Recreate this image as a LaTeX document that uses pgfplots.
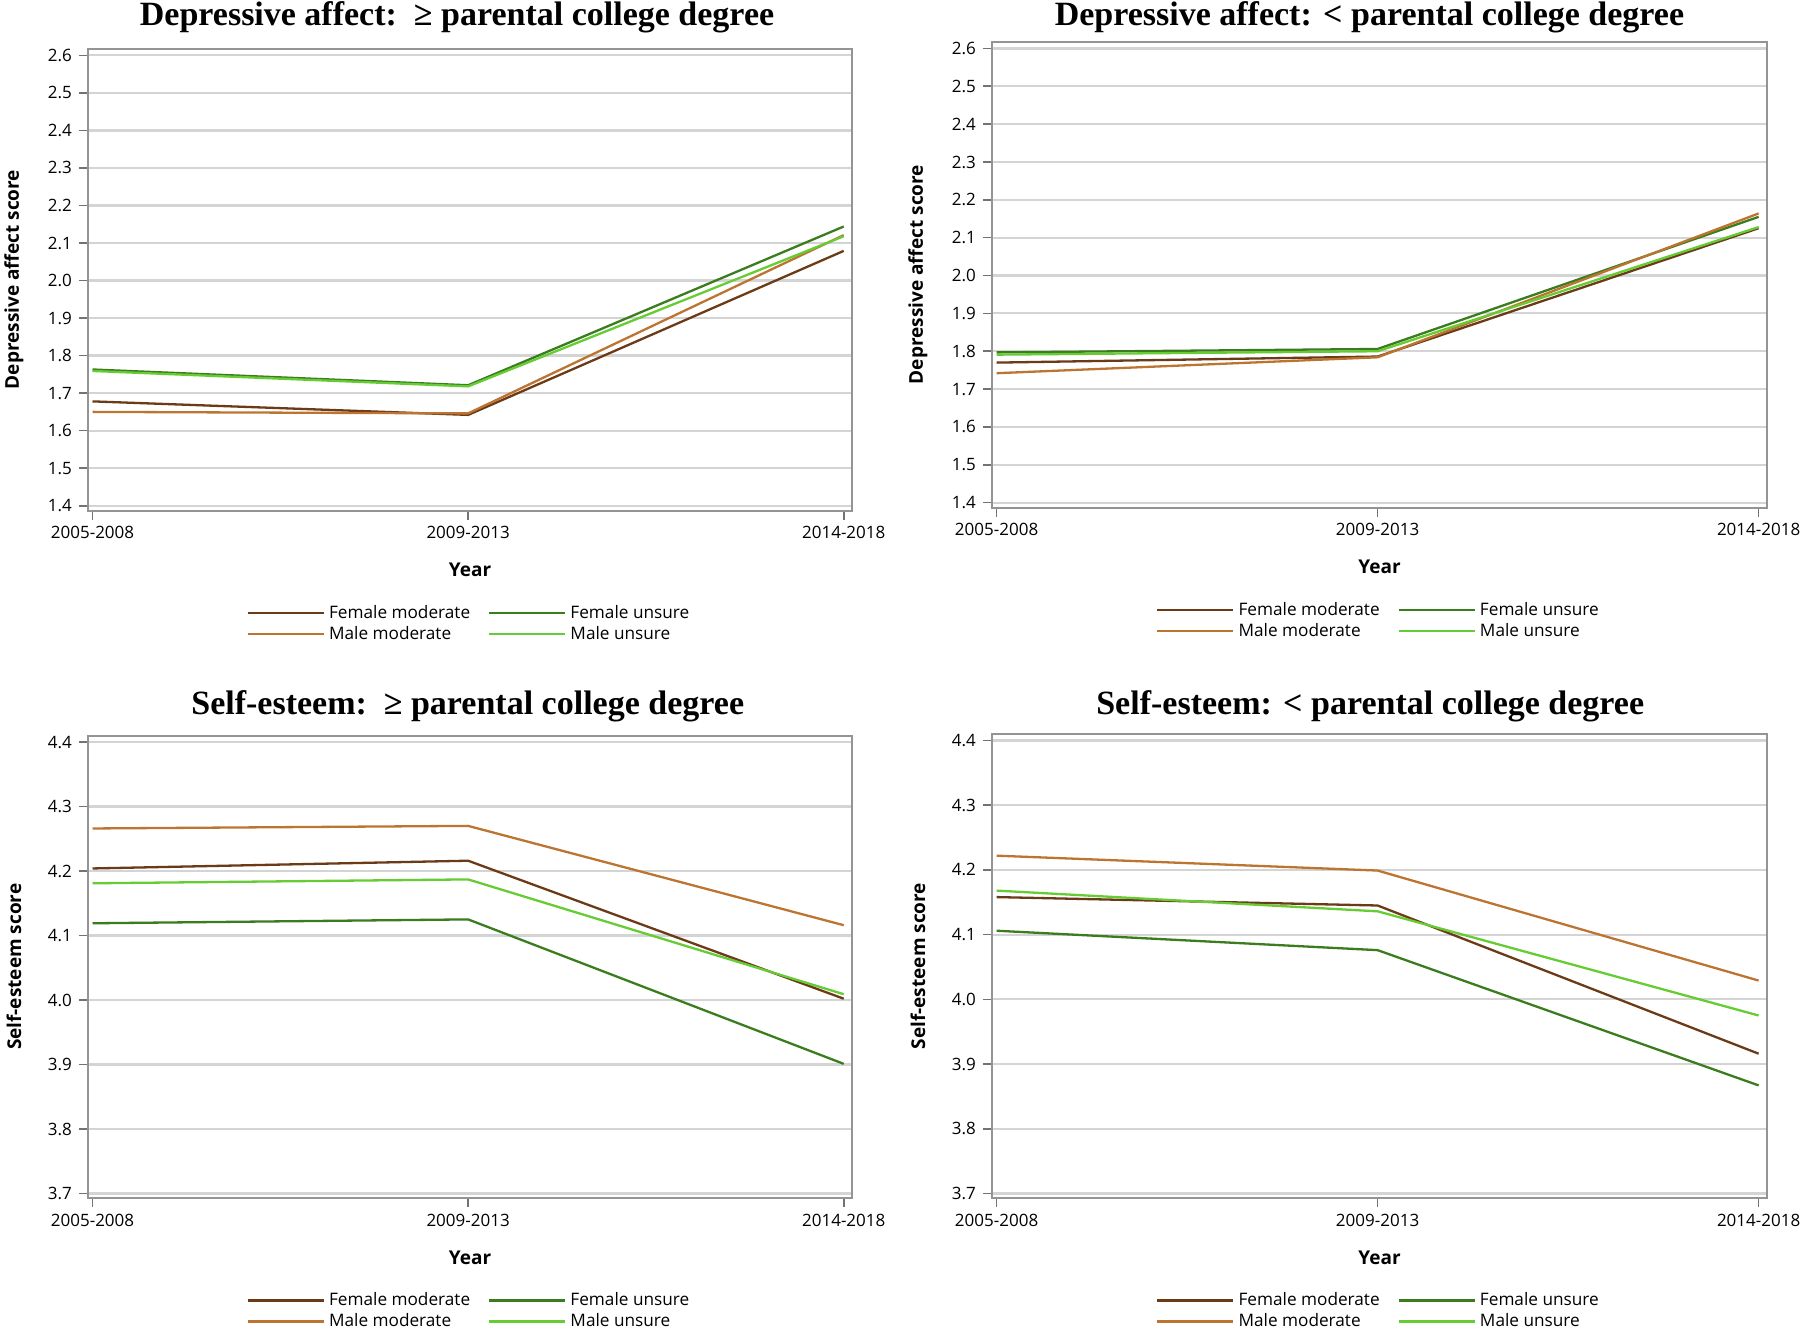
\documentclass[border=0pt]{standalone}
\usepackage{fontspec}
\setmainfont{Open Sans}
\newfontfamily\titlefont{Liberation Serif}
\usepackage{pgfplots}
\pgfplotsset{compat=1.18}
\definecolor{fmod}{HTML}{6B3A17}
\definecolor{mmod}{HTML}{BC7430}
\definecolor{funs}{HTML}{3B7D1E}
\definecolor{muns}{HTML}{66CC33}
\pgfplotsset{
 every axis title/.style={at={(0.5,1)}, anchor=base, font=\titlefont\fontsize{17}{20}\selectfont\bfseries},
 panel/.style={
  scale only axis,
  axis line style={draw=black!42, line width=1pt},
  xmin=-0.012, xmax=2.022,
  xtick={0,1,2}, xticklabels={2005-2008,2009-2013,2014-2018},
  xtick pos=bottom, ytick pos=left,
  ymajorgrids, grid style={black!17, line width=1.1pt},
  tick style={black!55, line width=0.8pt}, tick align=outside, major tick length=4.5pt,
  tick label style={font=\fontsize{8.5}{10}\selectfont},
  /pgf/number format/assume math mode=true,
  yticklabel style={/pgf/number format/.cd, fixed, fixed zerofill, precision=1},
  xlabel={Year},
  label style={font=\fontsize{9.5}{11}\selectfont\bfseries},
  xlabel style={at={([yshift=-29.7pt]axis description cs:0.5,0)}, anchor=center},
  ylabel style={at={([xshift=-37pt]axis description cs:0,0.5)}, anchor=center},
  legend columns=2,
  legend cell align=left,
  legend style={draw=none, fill=none, at={(0.5,0)}, anchor=north, yshift=-43pt,
    font=\fontsize{8.6}{10}\selectfont,
    /tikz/every even column/.append style={column sep=7pt},
    row sep=-1.5pt},
  legend image code/.code={\draw[#1] (0pt,0pt) -- (35pt,0pt); \path (0pt,0pt) -- (38pt,0pt);},
  every axis plot/.append style={line width=1.15pt, mark=none},
 },
 dep/.style={panel, ymin=1.387, ymax=2.618, ytick={1.4,1.5,1.6,1.7,1.8,1.9,2.0,2.1,2.2,2.3,2.4,2.5,2.6},
   ylabel={Depressive affect score}},
 se/.style={panel, ymin=3.693, ymax=4.410, ytick={3.7,3.8,3.9,4.0,4.1,4.2,4.3,4.4},
   ylabel={Self-esteem score}},
}
\begin{document}
\begin{tikzpicture}
\path[use as bounding box] (0pt,0pt) rectangle (900pt,665pt);
% top left
\begin{axis}[dep, at={(44pt,409.7pt)}, anchor=south west, width=382pt, height=231pt,
  title={Depressive affect:\ \ ≥ parental college degree},
  title style={at={(0.483,1)}, yshift=11.3pt}]
\addplot[fmod] coordinates {(0,1.678) (1,1.642) (2,2.079)};
\addlegendentry{Female moderate}
\addplot[funs] coordinates {(0,1.763) (1,1.721) (2,2.144)};
\addlegendentry{Female unsure}
\addplot[mmod] coordinates {(0,1.650) (1,1.646) (2,2.121)};
\addlegendentry{Male moderate}
\addplot[muns] coordinates {(0,1.759) (1,1.718) (2,2.118)};
\addlegendentry{Male unsure}
\end{axis}
% top right
\begin{axis}[dep, at={(496pt,411.2pt)}, anchor=south west, width=387.5pt, height=233pt,
  title={Depressive affect: < parental college degree},
  title style={at={(0.487,1)}, yshift=7.8pt}]
\addplot[fmod] coordinates {(0,1.770) (1,1.786) (2,2.125)};
\addlegendentry{Female moderate}
\addplot[funs] coordinates {(0,1.797) (1,1.806) (2,2.155)};
\addlegendentry{Female unsure}
\addplot[mmod] coordinates {(0,1.742) (1,1.784) (2,2.164)};
\addlegendentry{Male moderate}
\addplot[muns] coordinates {(0,1.791) (1,1.800) (2,2.128)};
\addlegendentry{Male unsure}
\end{axis}
% bottom left
\begin{axis}[se, at={(44pt,66pt)}, anchor=south west, width=382pt, height=231.2pt,
  title={Self-esteem:\ \ ≥ parental college degree},
  title style={at={(0.497,1)}, yshift=10.8pt}]
\addplot[fmod] coordinates {(0,4.204) (1,4.216) (2,4.002)};
\addlegendentry{Female moderate}
\addplot[funs] coordinates {(0,4.119) (1,4.125) (2,3.901)};
\addlegendentry{Female unsure}
\addplot[mmod] coordinates {(0,4.266) (1,4.270) (2,4.116)};
\addlegendentry{Male moderate}
\addplot[muns] coordinates {(0,4.181) (1,4.187) (2,4.009)};
\addlegendentry{Male unsure}
\end{axis}
% bottom right
\begin{axis}[se, at={(496pt,66pt)}, anchor=south west, width=387.5pt, height=232pt,
  title={Self-esteem: < parental college degree},
  title style={at={(0.488,1)}, yshift=9.8pt}]
\addplot[fmod] coordinates {(0,4.158) (1,4.145) (2,3.916)};
\addlegendentry{Female moderate}
\addplot[funs] coordinates {(0,4.106) (1,4.076) (2,3.867)};
\addlegendentry{Female unsure}
\addplot[mmod] coordinates {(0,4.222) (1,4.199) (2,4.029)};
\addlegendentry{Male moderate}
\addplot[muns] coordinates {(0,4.168) (1,4.136) (2,3.975)};
\addlegendentry{Male unsure}
\end{axis}
\end{tikzpicture}
\end{document}
